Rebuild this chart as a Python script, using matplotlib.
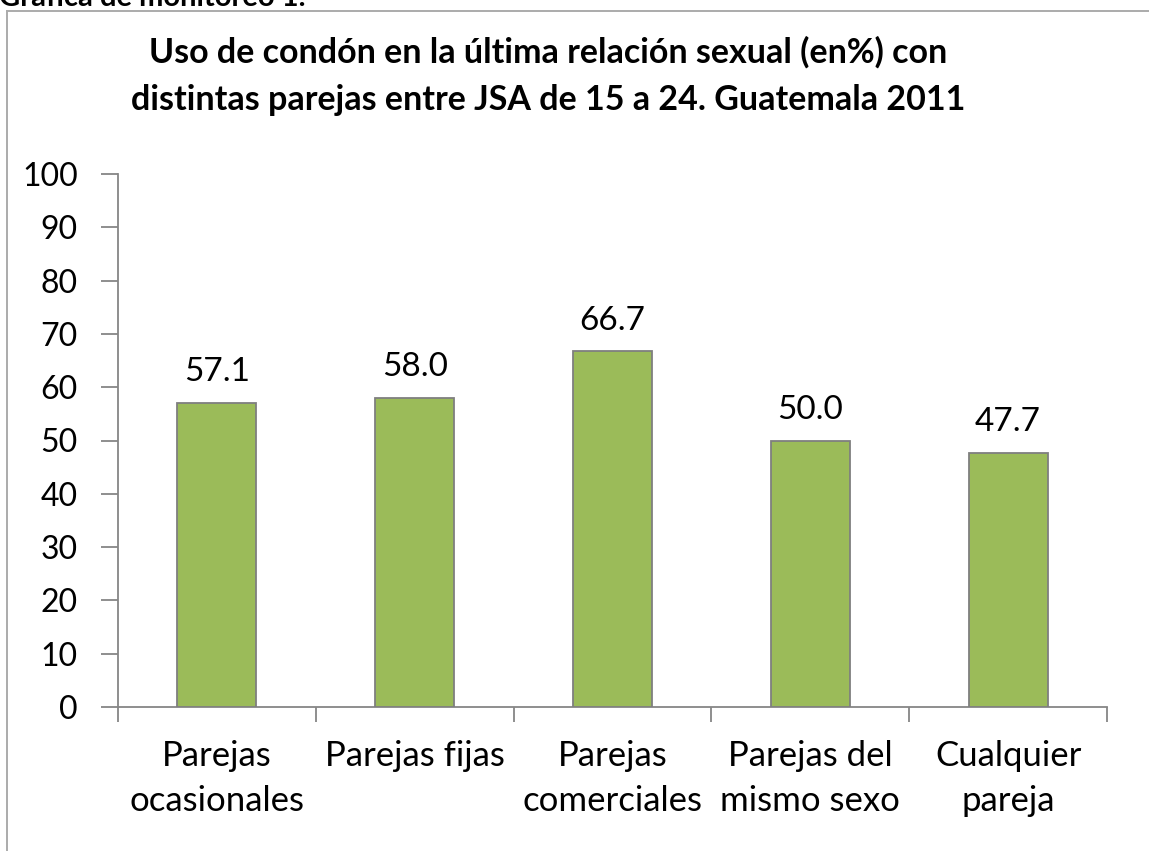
import matplotlib
matplotlib.use("Agg")
import matplotlib.pyplot as plt
from matplotlib.lines import Line2D

categories = ["Parejas\nocasionales", "Parejas fijas", "Parejas\ncomerciales",
              "Parejas del\nmismo sexo", "Cualquier\npareja"]
values = [57.1, 58.0, 66.7, 50.0, 47.7]
yticks = [0, 10, 20, 30, 40, 50, 60, 70, 80, 90, 100]
title_lines = ["Uso de condón en la última relación sexual (en%) con",
               "distintas parejas entre JSA de 15 a 24. Guatemala 2011"]
header = "Gráfica de monitoreo 1."

plt.rcParams['font.family'] = ['Lato', 'DejaVu Sans']

W, H = 1149, 851
fig = plt.figure(figsize=(W/100, H/100), dpi=100)
fig.patch.set_facecolor('white')

# plot area in pixels: x 118..1107, y 174..707
ax = fig.add_axes([118/W, 1-707/H, (1107-118)/W, (707-174)/H])
n = len(categories)
x = list(range(n))
ax.bar(x, values, width=0.4, color='#9BBB59', edgecolor='#7F7F7F', linewidth=1.3, zorder=3)
for xi, v in zip(x, values):
    ax.text(xi, v + 4.1, f"{v:.1f}", ha='center', va='baseline', fontsize=24, color='black')

ax.set_xlim(-0.5, n-0.5)
ax.set_ylim(0, 100)
ax.set_yticks(yticks)
ax.set_yticklabels([str(t) for t in yticks], fontsize=23)
ax.set_xticks([i - 0.5 for i in range(n+1)])
ax.set_xticklabels([])
ax.set_xticks(x, minor=True)
ax.set_xticklabels(categories, minor=True, fontsize=25, linespacing=1.5)
ax.tick_params(axis='x', which='minor', length=0, pad=24)
ax.tick_params(axis='x', which='major', length=11, width=1.3, color='#868686', direction='out')
ax.tick_params(axis='y', length=12, width=1.3, color='#868686', pad=17)
for s in ['top', 'right']:
    ax.spines[s].set_visible(False)
for s in ['left', 'bottom']:
    ax.spines[s].set_color('#868686')
    ax.spines[s].set_linewidth(1.3)
ax.set_facecolor('none')

fig.text(548/W, 1-63/H, title_lines[0], ha='center', va='baseline', fontsize=24.5, fontweight='bold')
fig.text(548/W, 1-110/H, title_lines[1], ha='center', va='baseline', fontsize=24.5, fontweight='bold')

# frame lines
fig.add_artist(Line2D([7/W, 1], [1-10.5/H, 1-10.5/H], color='#ABABAB', linewidth=1.4))
fig.add_artist(Line2D([7/W, 7/W], [0, 1-10.5/H], color='#ABABAB', linewidth=1.4))

fig.text(-1/W, 1-6/H, header, ha='left', va='baseline', fontsize=21, fontweight='bold')

fig.savefig("out.png", dpi=100)
